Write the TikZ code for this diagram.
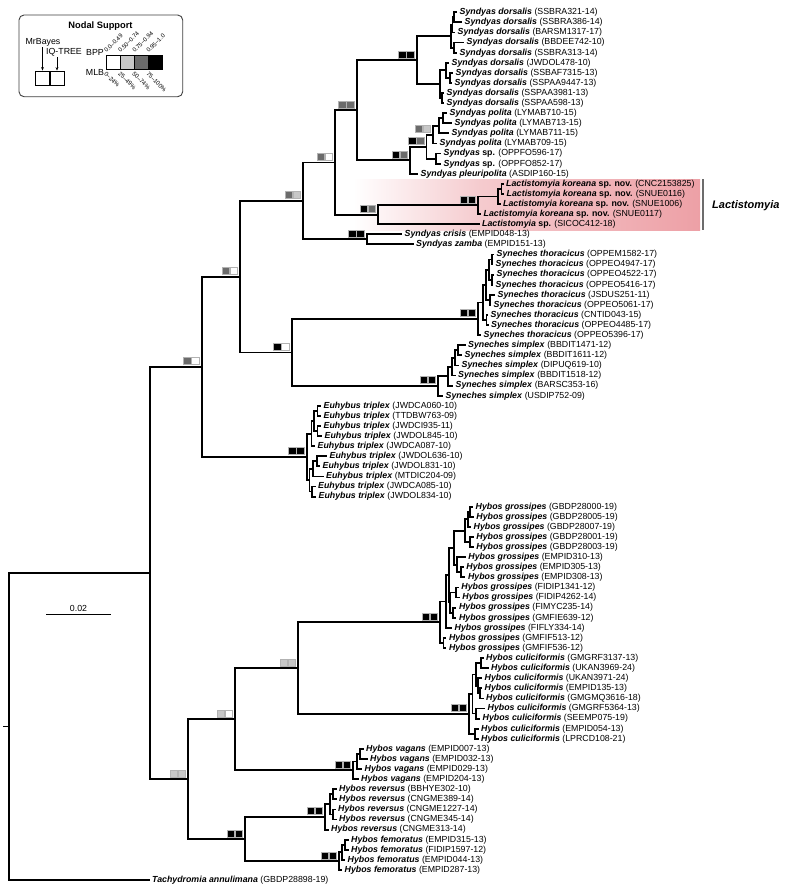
\documentclass[tikz,border=0pt]{standalone}
\usepackage{fontspec}
\setmainfont{Liberation Sans}
\usetikzlibrary{arrows.meta}

\definecolor{bpp0}{gray}{1}
\definecolor{bpp1}{gray}{0.78}
\definecolor{bpp2}{gray}{0.42}
\definecolor{bpp3}{gray}{0}
\definecolor{lactpink}{RGB}{237,160,166}
\newcommand{\tipfont}{\fontsize{8.8}{10}\selectfont}
% two support squares (MrBayes | IQ-TREE) left of a node
\newcommand{\nodesupp}[3]{%
  \node[supbox, fill=#2, anchor=south east] (#1-a) at ([shift={(-10.5,-2)}]#1) {};
  \node[supbox, fill=#3, anchor=south west] (#1-b) at (#1-a.south east) {};}

\begin{document}
\begin{tikzpicture}[x=1pt, y=-1pt,
  br/.style={line width=1.8pt},
  tip/.style={anchor=west, inner sep=0pt, xshift=2.5pt, font=\tipfont,
              text height=6.2pt, text depth=1.5pt},
  supbox/.style={draw=gray!60, line width=0.5pt, minimum width=7.5pt,
                 minimum height=7pt, inner sep=0pt},
  legtxt/.style={font=\tipfont, inner sep=0.5pt},
  legbox/.style={draw, line width=0.7pt, minimum width=13.8pt,
                 minimum height=14.7pt, inner sep=0pt},
  cell/.style={draw, line width=0.7pt, minimum width=14pt,
               minimum height=14.3pt, inner sep=0pt},
  rng/.style={font=\fontsize{6}{6.5}\selectfont, inner sep=0pt,
              text height=4pt, text depth=0pt},
]
  \fill[white] (0,0) rectangle (790,895);
  \useasboundingbox (0,0) rectangle (790,895);

  % Lactistomyia highlight
  \shade[left color=white, right color=lactpink!55] (353,179.3) rectangle (480,230);
  \shade[left color=lactpink!55, right color=lactpink] (480,179.3) rectangle (700,230);
  \coordinate (barT) at (703,179.3);
  \coordinate (barB) at (703,230);
  \draw[line width=2.3pt, gray!85!black] (barT) -- (barB);
  \node[anchor=west, inner sep=0pt, font=\bfseries\itshape\fontsize{11}{12}\selectfont]
    (lactlab) at (712,205.5) {Lactistomyia};

  % tips
  \foreach \i/\x/\nm/\cd in {
    0/457/Syndyas dorsalis/SSBRA321-14, 1/462/Syndyas dorsalis/SSBRA386-14,
    2/455/Syndyas dorsalis/BARSM1317-17, 3/464/Syndyas dorsalis/BBDEE742-10,
    4/457/Syndyas dorsalis/SSBRA313-14, 5/449/Syndyas dorsalis/JWDOL478-10,
    6/453/Syndyas dorsalis/SSBAF7315-13, 7/452/Syndyas dorsalis/SSPAA9447-13,
    8/444/Syndyas dorsalis/SSPAA3981-13, 9/444/Syndyas dorsalis/SSPAA598-13,
    10/447/Syndyas polita/LYMAB710-15, 11/452/Syndyas polita/LYMAB713-15,
    12/449/Syndyas polita/LYMAB711-15, 13/437/Syndyas polita/LYMAB709-15,
    14/441/Syndyas\textup{ sp.}/OPPFO596-17, 15/441/Syndyas\textup{ sp.}/OPPFO852-17,
    16/418/Syndyas pleuripolita/ASDIP160-15,
    17/503.5/Lactistomyia koreana\textup{ sp. nov.}/CNC2153825,
    18/504/Lactistomyia koreana\textup{ sp. nov.}/SNUE0116,
    19/500.5/Lactistomyia koreana\textup{ sp. nov.}/SNUE1006,
    20/481/Lactistomyia koreana\textup{ sp. nov.}/SNUE0117,
    21/479.5/Lactistomyia\textup{ sp.}/SICOC412-18,
    22/402/Syndyas crisis/EMPID048-13, 23/413.5/Syndyas zamba/EMPID151-13,
    24/494/Syneches thoracicus/OPPEM1582-17, 25/493/Syneches thoracicus/OPPEO4947-17,
    26/494/Syneches thoracicus/OPPEO4522-17, 27/493/Syneches thoracicus/OPPEO5416-17,
    28/495/Syneches thoracicus/JSDUS251-11, 29/491/Syneches thoracicus/OPPEO5061-17,
    30/488/Syneches thoracicus/CNTID043-15, 31/488.5/Syneches thoracicus/OPPEO4485-17,
    32/481/Syneches thoracicus/OPPEO5396-17,
    33/465.5/Syneches simplex/BBDIT1471-12, 34/462/Syneches simplex/BBDIT1611-12,
    35/459/Syneches simplex/DIPUQ619-10, 36/455.5/Syneches simplex/BBDIT1518-12,
    37/453/Syneches simplex/BARSC353-16, 38/443/Syneches simplex/USDIP752-09,
    39/321/Euhybus triplex/JWDCA060-10, 40/321/Euhybus triplex/TTDBW763-09,
    41/321/Euhybus triplex/JWDCI935-11, 42/322/Euhybus triplex/JWDOL845-10,
    43/315/Euhybus triplex/JWDCA087-10, 44/327/Euhybus triplex/JWDOL636-10,
    45/320/Euhybus triplex/JWDOL831-10, 46/323.5/Euhybus triplex/MTDIC204-09,
    47/315.5/Euhybus triplex/JWDCA085-10, 48/316/Euhybus triplex/JWDOL834-10,
    49/473/Hybos grossipes/GBDP28000-19, 50/473.7/Hybos grossipes/GBDP28005-19,
    51/471/Hybos grossipes/GBDP28007-19, 52/473.7/Hybos grossipes/GBDP28001-19,
    53/473.7/Hybos grossipes/GBDP28003-19, 54/465.7/Hybos grossipes/EMPID310-13,
    55/463.7/Hybos grossipes/EMPID305-13, 56/465.3/Hybos grossipes/EMPID308-13,
    57/458.7/Hybos grossipes/FIDIP1341-12, 58/459.7/Hybos grossipes/FIDIP4262-14,
    59/456.3/Hybos grossipes/FIMYC235-14, 60/456.3/Hybos grossipes/GMFIE639-12,
    61/452/Hybos grossipes/FIFLY334-14, 62/446.3/Hybos grossipes/GMFIF513-12,
    63/446.3/Hybos grossipes/GMFIF536-12,
    64/483.5/Hybos culiciformis/GMGRF3137-13, 65/488.5/Hybos culiciformis/UKAN3969-24,
    66/482/Hybos culiciformis/UKAN3971-24, 67/482/Hybos culiciformis/EMPID135-13,
    68/483.5/Hybos culiciformis/GMGMQ3616-18, 69/485/Hybos culiciformis/GMGRF5364-13,
    70/480/Hybos culiciformis/SEEMP075-19, 71/478.5/Hybos culiciformis/EMPID054-13,
    72/478.5/Hybos culiciformis/LPRCD108-21,
    73/363.5/Hybos vagans/EMPID007-13, 74/367.5/Hybos vagans/EMPID032-13,
    75/362/Hybos vagans/EMPID029-13, 76/358.5/Hybos vagans/EMPID204-13,
    77/336.5/Hybos reversus/BBHYE302-10, 78/336.5/Hybos reversus/CNGME389-14,
    79/335.5/Hybos reversus/CNGME1227-14, 80/336.5/Hybos reversus/CNGME345-14,
    81/328.5/Hybos reversus/CNGME313-14,
    82/348.5/Hybos femoratus/EMPID315-13, 83/348.5/Hybos femoratus/FIDIP1597-12,
    84/345/Hybos femoratus/EMPID044-13, 85/342/Hybos femoratus/EMPID287-13,
    86/149.5/Tachydromia annulimana/GBDP28898-19}
  {
    \coordinate (t\i) at (\x,{12.3+10.09*\i});
    \node[tip] (lab\i) at (t\i) {\textbf{\textit{\nm}} (\cd)};
  }

  % internal nodes
  \foreach \n/\x/\y in {
    d01/454/17.35, d012/452.5/24.9, d34/454/47.65, dorsA/451/36.3,
    d67/450/77.85, d567/446/70.3, d89/442/98.05, dorsB/440/84.2, dors/416.7/60.25,
    p01/443/118.25, p012/439/125.8, pol/433/134.65, ssp/436/158.65,
    polsp/426.5/146.65, polpl/410/160.2, syn1/356.7/110.2,
    kor2/501.5/188.85, kor1/498.3/196.4, kor/478.3/205.25, lact/378.3/214.7,
    syn2/335/162.45, criz/366.7/239.35, syn3/303.3/200.9,
    h01/492/259.55, h23/492/279.65, th1/489/269.6, h45/490/299.85, th2/486/284.7,
    h67/486.5/320.05, th3/483/302.4, thor/478.3/318.8,
    sim1/458/350.35, sim2/455/357.9, sim3/452/366.7, sim4/448/376.15,
    simp/438.3/385.95, synch/291.7/352.4, ss/240/276.65,
    e01/317.5/410.85, e23/317.5/431.05, eu1/314/420.95, eu2/311.5/433.6,
    e45/317/461.35, e456/313/468.9, e78/312/491.55, eu3/309.5/480.2,
    euh/306.7/456.9, n15/201.7/366.8,
    g01/470/511.75, g012/468/519.3, g34/470/542.05, g4/465/530.7,
    g56/461/572.3, g6/457/564.75, g7/454/547.7, g8/456/592.45, g9/453/612.65,
    g10/450/602.55, g11/449/575.1, g12/446/601.45, g13/443.5/642.95, gros/440/622.2,
    c01/481/663.15, c23/480/693.35, c3/478/685.8, c4/476/674.5, c5/476/713.55,
    c6/472.5/694, c7/475/733.75, culi/469.3/713.9, gc/298.3/668.05,
    v01/360/753.95, v2/357/761.5, vag/353.3/770.3, gcv/235/719.2,
    r01/333/794.25, r23/333/814.45, r3/330/804.35, rev/325/816.95,
    f01/345/844.75, f2/342/852.3, fem/339.3/861.15, rf/245/839.05,
    hyb/188.3/779.1, ingr/150/572.95, root/9.3/726.5}
    \coordinate (\n) at (\x,\y);
  \coordinate (rootstub) at (3,726.5);

  % branches
  \draw[br] (rootstub) -- (root);
  \foreach \p/\q in {
    d01/t0, d01/t1, d012/d01, d012/t2, d34/t3, d34/t4, dorsA/d012, dorsA/d34,
    d67/t6, d67/t7, d567/t5, d567/d67, d89/t8, d89/t9, dorsB/d567, dorsB/d89,
    dors/dorsA, dors/dorsB,
    p01/t10, p01/t11, p012/p01, p012/t12, pol/p012, pol/t13, ssp/t14, ssp/t15,
    polsp/pol, polsp/ssp, polpl/polsp, polpl/t16, syn1/dors, syn1/polpl,
    kor2/t17, kor2/t18, kor1/kor2, kor1/t19, kor/kor1, kor/t20, lact/kor, lact/t21,
    syn2/syn1, syn2/lact, criz/t22, criz/t23, syn3/syn2, syn3/criz,
    h01/t24, h01/t25, h23/t26, h23/t27, th1/h01, th1/h23, h45/t28, h45/t29,
    th2/th1, th2/h45, h67/t30, h67/t31, th3/th2, th3/h67, thor/th3, thor/t32,
    sim1/t33, sim1/t34, sim2/sim1, sim2/t35, sim3/sim2, sim3/t36, sim4/sim3, sim4/t37,
    simp/sim4, simp/t38, synch/thor, synch/simp, ss/syn3, ss/synch,
    e01/t39, e01/t40, e23/t41, e23/t42, eu1/e01, eu1/e23, eu2/eu1, eu2/t43,
    e45/t44, e45/t45, e456/e45, e456/t46, e78/t47, e78/t48, eu3/e456, eu3/e78,
    euh/eu2, euh/eu3, n15/ss, n15/euh,
    g01/t49, g01/t50, g012/g01, g012/t51, g34/t52, g34/t53, g4/g012, g4/g34,
    g56/t55, g56/t56, g6/t54, g6/g56, g7/g4, g7/g6, g8/t57, g8/t58, g9/t59, g9/t60,
    g10/g8, g10/g9, g11/g7, g11/g10, g12/g11, g12/t61, g13/t62, g13/t63,
    gros/g12, gros/g13,
    c01/t64, c01/t65, c23/t67, c23/t68, c3/t66, c3/c23, c4/c01, c4/c3,
    c5/t69, c5/t70, c6/c4, c6/c5, c7/t71, c7/t72, culi/c6, culi/c7, gc/gros, gc/culi,
    v01/t73, v01/t74, v2/v01, v2/t75, vag/v2, vag/t76, gcv/gc, gcv/vag,
    r01/t77, r01/t78, r23/t79, r23/t80, r3/r01, r3/r23, rev/r3, rev/t81,
    f01/t82, f01/t83, f2/f01, f2/t84, fem/f2, fem/t85, rf/rev, rf/fem,
    hyb/gcv, hyb/rf, ingr/n15, ingr/hyb, root/ingr, root/t86}
    \draw[br] (\p) |- (\q);

  % nodal support
  \foreach \n/\a/\b in {
    dors/bpp3/bpp3, syn1/bpp2/bpp2, pol/bpp2/bpp1, polsp/bpp3/bpp2,
    polpl/bpp3/bpp2, syn2/bpp2/bpp0, lact/bpp3/bpp2, kor/bpp3/bpp3,
    syn3/bpp2/bpp1, criz/bpp3/bpp3, ss/bpp2/bpp0, synch/bpp3/bpp0,
    thor/bpp3/bpp3, simp/bpp3/bpp3, n15/bpp2/bpp0, euh/bpp3/bpp3,
    gros/bpp3/bpp3, culi/bpp3/bpp3, gc/bpp1/bpp1, gcv/bpp1/bpp0,
    vag/bpp3/bpp3, hyb/bpp1/bpp1, rf/bpp3/bpp3, rev/bpp3/bpp3, fem/bpp3/bpp3}
    \nodesupp{\n}{\a}{\b};

  % scale bar
  \coordinate (sb0) at (46,614);
  \coordinate (sb1) at (111,614);
  \draw[line width=0.9pt] (sb0) -- node[above=1.5pt, font=\tipfont, inner sep=0pt] (sblab) {0.02} (sb1);

  % legend
  \draw[rounded corners=5pt, line width=0.9pt, black!75] (19,15) rectangle (182.7,96.7);
  \node[font=\bfseries\fontsize{9.3}{10}\selectfont] (legtitle) at (100.5,26) {Nodal Support};
  \node[legtxt] (mrb) at (43,42.5) {MrBayes};
  \node[legtxt] (iqt) at (64,52.5) {IQ-TREE};
  \node[legbox] (lbA) at (42.5,78.3) {};
  \node[legbox, anchor=west] (lbB) at (lbA.east) {};
  \draw[line width=0.6pt, -{Stealth[length=3.5pt, width=2.8pt]}] (mrb.south -| lbA.north) -- (lbA.north);
  \draw[line width=0.6pt, -{Stealth[length=3.5pt, width=2.8pt]}] (iqt.south -| lbB.north) -- (lbB.north);
  \node[legtxt] (bpp) at (95,52) {BPP};
  \node[legtxt] (mlb) at (95,72.5) {MLB};
  \foreach \k/\cl in {0/bpp0, 1/bpp1, 2/bpp2, 3/bpp3}
    \node[cell, fill=\cl] (cell\k) at ({113+14.07*\k},62.2) {};
  \foreach \k/\t in {0/0.0--0.49, 1/0.50--0.74, 2/0.75--0.94, 3/0.95--1.0}
    \node[rng, rotate=45, anchor=south west] (bpplab\k) at ([shift={(1,-1.5)}]cell\k.north west) {\t};
  \foreach \k/\t in {0/0--24\%, 1/25--49\%, 2/50--74\%, 3/75--100\%}
    \node[rng, rotate=-45, anchor=north west] (mlblab\k) at ([shift={(1,1.5)}]cell\k.south west) {\t};
\end{tikzpicture}
\end{document}
